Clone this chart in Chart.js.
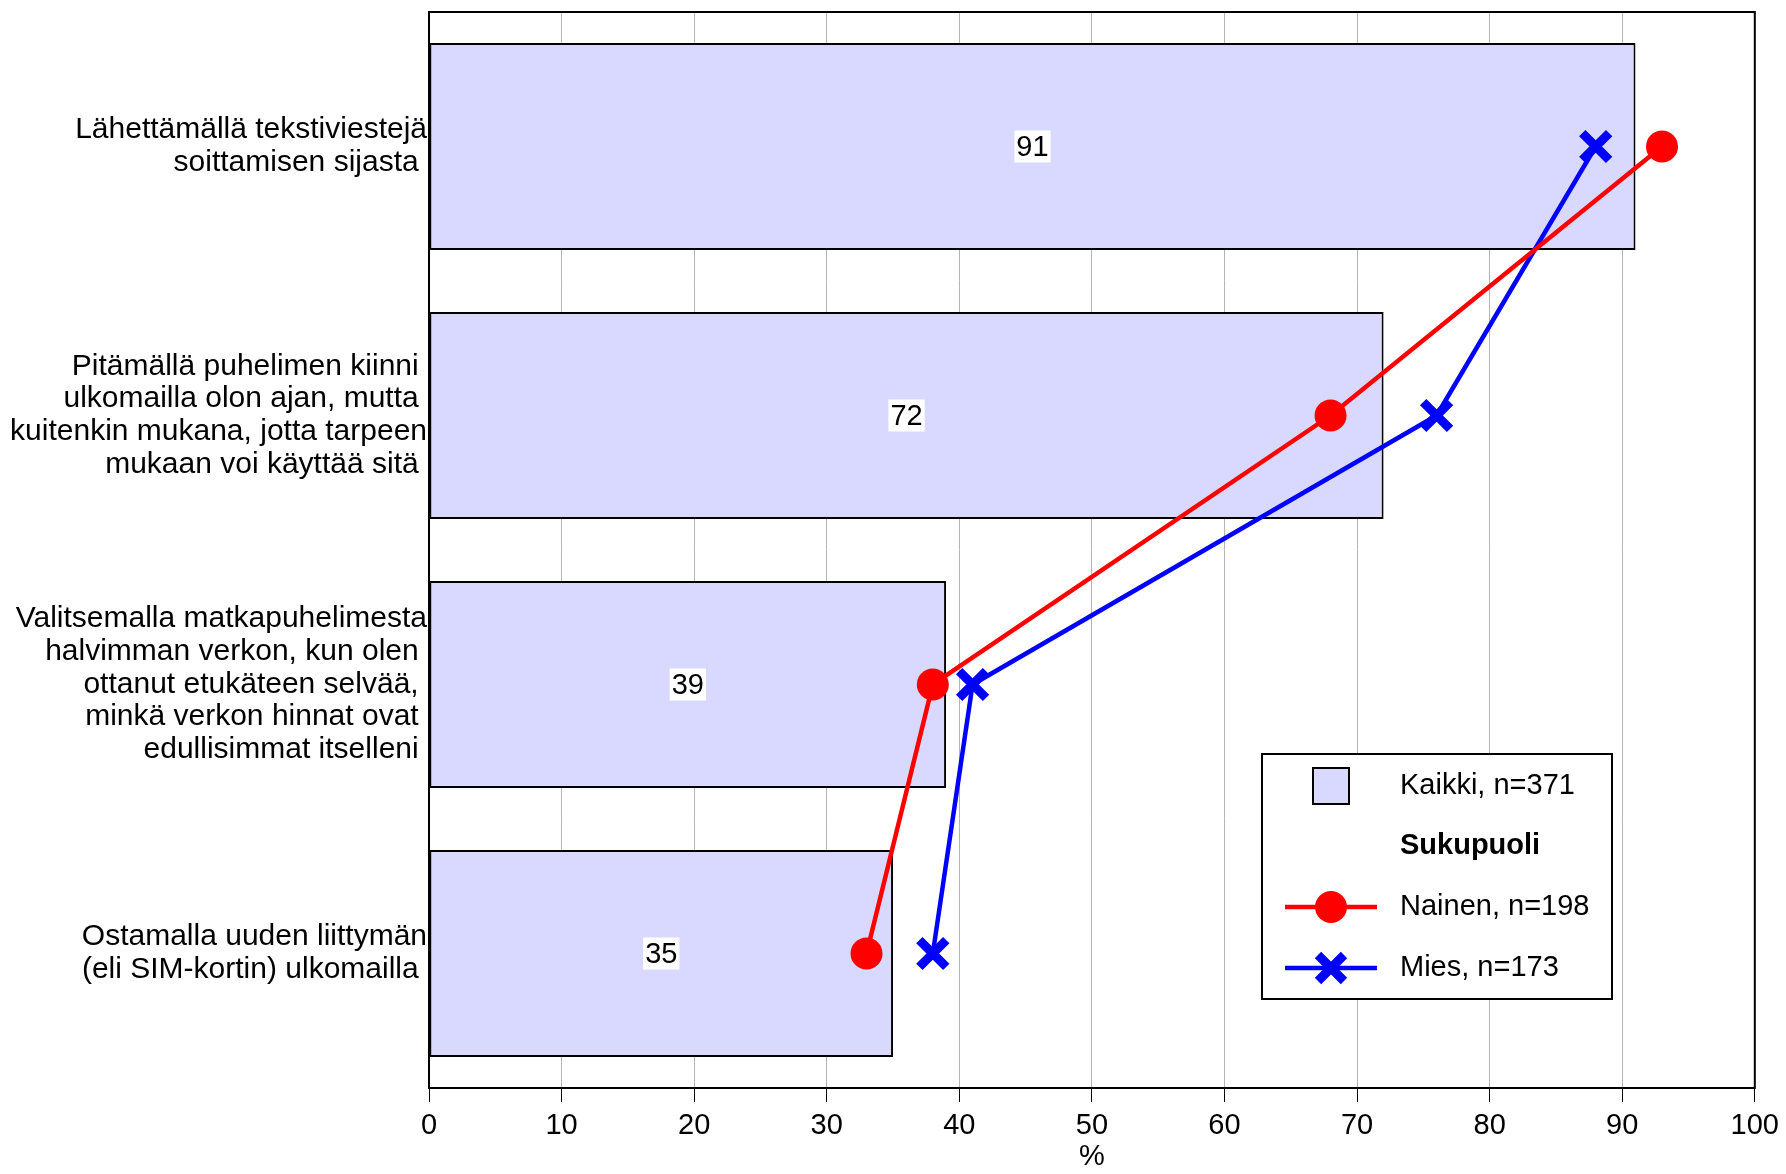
<!DOCTYPE html>
<html>
<head>
<meta charset="utf-8">
<script src="https://cdn.jsdelivr.net/npm/chart.js@4/dist/chart.umd.min.js"></script>
<style>
  html, body { margin: 0; padding: 0; background: #fff; }
  #wrap { width: 1786px; height: 1174px; }
</style>
</head>
<body>
<div id="wrap"><canvas id="chart"></canvas></div>
<script>
const categories = [
  ['Lähettämällä tekstiviestejä', 'soittamisen sijasta '],
  ['Pitämällä puhelimen kiinni ', 'ulkomailla olon ajan, mutta ', 'kuitenkin mukana, jotta tarpeen', 'mukaan voi käyttää sitä '],
  ['Valitsemalla matkapuhelimesta', 'halvimman verkon, kun olen ', 'ottanut etukäteen selvää, ', 'minkä verkon hinnat ovat ', 'edullisimmat itselleni '],
  ['Ostamalla uuden liittymän', '(eli SIM-kortin) ulkomailla ']
]
const kaikki = [91, 72, 39, 35]
const nainen = [93, 68, 38, 33]
const mies = [88, 76, 41, 38]
const seriesNames = ['Kaikki, n=371', 'Nainen, n=198', 'Mies, n=173']
const legendHeader = 'Sukupuoli'

const FONT = 'Liberation Sans, Arial, sans-serif'
Chart.defaults.font.family = FONT
Chart.defaults.font.size = 29
Chart.defaults.color = '#000'

// value labels in white boxes at the middle of the bars
const barLabels = {
  id: 'barLabels',
  afterDatasetsDraw(chart) {
    const ctx = chart.ctx
    const meta = chart.getDatasetMeta(0)
    ctx.save()
    ctx.font = '29px ' + FONT
    ctx.textAlign = 'center'
    ctx.textBaseline = 'middle'
    meta.data.forEach((bar, i) => {
      const cx = (bar.x + bar.base) / 2
      const txt = String(kaikki[i])
      const w = ctx.measureText(txt).width + 4
      ctx.fillStyle = '#fff'
      ctx.fillRect(cx - w / 2, bar.y - 16, w, 32)
      ctx.fillStyle = '#000'
      ctx.fillText(txt, cx, bar.y + 1)
    })
    ctx.restore()
  }
}

// plot frame + custom legend box
const frameAndLegend = {
  id: 'frameAndLegend',
  afterDraw(chart) {
    const ctx = chart.ctx
    const a = chart.chartArea
    ctx.save()
    ctx.strokeStyle = '#000'
    ctx.lineWidth = 2
    ctx.strokeRect(a.left, a.top, a.right - a.left, a.bottom - a.top)

    const bx = 1262, by = 754, bw = 350, bh = 245
    ctx.fillStyle = '#fff'
    ctx.fillRect(bx, by, bw, bh)
    ctx.strokeRect(bx, by, bw, bh)

    const mx = 1331, tx = 1400
    const rows = [786, 846, 907, 968]
    ctx.font = '29px ' + FONT
    ctx.textBaseline = 'middle'
    ctx.textAlign = 'left'

    // bar swatch
    ctx.fillStyle = '#D9D9FF'
    ctx.fillRect(mx - 18, rows[0] - 18, 36, 36)
    ctx.strokeRect(mx - 18, rows[0] - 18, 36, 36)
    ctx.fillStyle = '#000'
    ctx.fillText(seriesNames[0], tx, rows[0])

    ctx.font = 'bold 29px ' + FONT
    ctx.fillText(legendHeader, tx, rows[1])
    ctx.font = '29px ' + FONT

    // red line + circle
    ctx.strokeStyle = '#FF0000'
    ctx.lineWidth = 4.5
    ctx.beginPath(); ctx.moveTo(mx - 46, rows[2]); ctx.lineTo(mx + 46, rows[2]); ctx.stroke()
    ctx.fillStyle = '#FF0000'
    ctx.beginPath(); ctx.arc(mx, rows[2], 16, 0, Math.PI * 2); ctx.fill()
    ctx.fillStyle = '#000'
    ctx.fillText(seriesNames[1], tx, rows[2])

    // blue line + cross
    ctx.strokeStyle = '#0000FF'
    ctx.lineWidth = 4.5
    ctx.beginPath(); ctx.moveTo(mx - 46, rows[3]); ctx.lineTo(mx + 46, rows[3]); ctx.stroke()
    ctx.lineWidth = 9
    const r = 13
    ctx.beginPath()
    ctx.moveTo(mx - r, rows[3] - r); ctx.lineTo(mx + r, rows[3] + r)
    ctx.moveTo(mx + r, rows[3] - r); ctx.lineTo(mx - r, rows[3] + r)
    ctx.stroke()
    ctx.fillStyle = '#000'
    ctx.fillText(seriesNames[2], tx, rows[3])
    ctx.restore()
  }
}

const ctx = document.getElementById('chart').getContext('2d')
new Chart(ctx, {
  type: 'bar',
  data: {
    labels: categories,
    datasets: [
      {
        label: seriesNames[0],
        data: kaikki,
        backgroundColor: '#D9D9FF',
        borderColor: '#000',
        borderWidth: 2,
        borderSkipped: false,
        barPercentage: 0.77,
        categoryPercentage: 1,
        order: 2
      },
      {
        type: 'line',
        label: seriesNames[1],
        data: nainen,
        borderColor: '#FF0000',
        backgroundColor: '#FF0000',
        borderWidth: 4.5,
        pointStyle: 'circle',
        pointRadius: 16,
        pointBorderWidth: 0,
        order: 0
      },
      {
        type: 'line',
        label: seriesNames[2],
        data: mies,
        borderColor: '#0000FF',
        backgroundColor: '#0000FF',
        borderWidth: 4.5,
        pointStyle: 'crossRot',
        pointRadius: 19,
        pointBorderWidth: 9,
        order: 1
      }
    ]
  },
  options: {
    indexAxis: 'y',
    responsive: true,
    maintainAspectRatio: false,
    animation: false,
    layout: { autoPadding: false, padding: { top: 12, right: 30, left: 0, bottom: 0 } },
    plugins: {
      legend: { display: false },
      tooltip: { enabled: false }
    },
    scales: {
      x: {
        min: 0,
        max: 100,
        ticks: { stepSize: 10, padding: 7, font: { size: 29 } },
        grid: { color: '#b4b4b4', lineWidth: 1, tickColor: '#000', tickLength: 14, drawOnChartArea: true },
        border: { color: '#000', width: 2 },
        title: { display: true, text: '%', font: { size: 29 }, padding: { top: 7, bottom: 0 } },
        afterFit(s) { s.height = 86; s.paddingLeft = 0 }
      },
      y: {
        ticks: { padding: 2, font: { size: 30, lineHeight: 1.09 } },
        grid: { display: false, drawTicks: false },
        border: { color: '#000', width: 2 },
        afterFit(s) { s.width = 429; s.paddingTop = 0; s.paddingBottom = 0 }
      }
    }
  },
  plugins: [barLabels, frameAndLegend]
})
</script>
</body>
</html>
